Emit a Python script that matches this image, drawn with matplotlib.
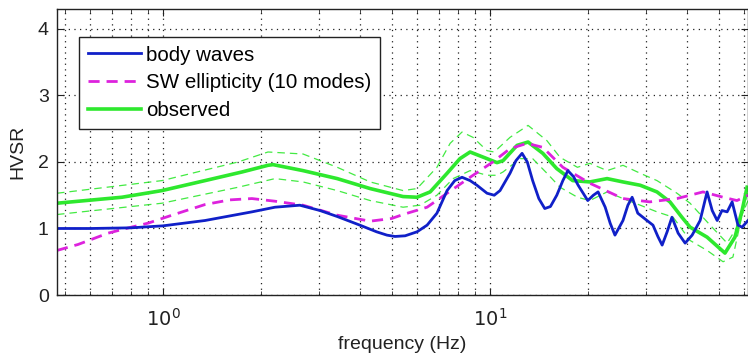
import matplotlib
matplotlib.use("Agg")
import matplotlib.pyplot as plt
from matplotlib.ticker import LogLocator, NullFormatter, FixedLocator

plt.rcParams['font.family'] = ['Liberation Sans', 'DejaVu Sans']

# body waves
body_f = [0.474, 0.6, 0.8, 1.0, 1.344, 1.87, 2.2, 2.62, 3.02, 3.41, 4.0, 4.5, 4.84, 5.12, 5.5,
          5.98, 6.42, 6.88, 7.39, 7.8, 8.21, 8.69, 9.12, 9.79, 10.3, 10.73, 11.51, 12.0, 12.53,
          13.0, 13.5, 14.1, 14.7, 15.3, 16.0, 16.7, 17.3, 18.0, 18.6, 19.9, 20.7, 21.4, 22.5,
          23.3, 24.1, 25.5, 26.4, 27.2, 28.3, 30.2, 31.5, 32.6, 33.6, 34.8, 36.0, 37.6, 39.5,
          41.5, 43.9, 46.1, 47.8, 49.5, 51.2, 53.1, 55.0, 57.3, 59.0, 61.5]
body_v = [1.0, 1.0, 1.01, 1.04, 1.12, 1.25, 1.32, 1.35, 1.27, 1.18, 1.05, 0.95, 0.9, 0.88, 0.89,
          0.95, 1.05, 1.23, 1.57, 1.72, 1.77, 1.72, 1.65, 1.53, 1.5, 1.57, 1.83, 2.02, 2.13,
          2.0, 1.72, 1.45, 1.30, 1.33, 1.5, 1.72, 1.87, 1.78, 1.65, 1.42, 1.5, 1.55, 1.32,
          1.08, 0.9, 1.12, 1.35, 1.47, 1.23, 1.12, 1.05, 0.88, 0.75, 0.95, 1.17, 0.93, 0.78,
          0.9, 1.12, 1.55, 1.27, 1.12, 1.27, 1.25, 1.4, 1.05, 1.02, 1.12]

# SW ellipticity (10 modes)
sw_f = [0.474, 0.55, 0.679, 0.8, 0.9, 1.065, 1.344, 1.6, 1.87, 2.2, 2.68, 3.41, 4.3, 5.0,
        5.42, 6.42, 7.39, 8.69, 10.2, 11.51, 12.98, 14.5, 16.7, 20.2, 25.5, 30.8, 37.3, 44.8,
        51.6, 56.9, 61.5]
sw_v = [0.67, 0.76, 0.93, 1.02, 1.08, 1.2, 1.36, 1.43, 1.45, 1.41, 1.35, 1.2, 1.11, 1.15,
        1.21, 1.32, 1.53, 1.77, 2.0, 2.2, 2.28, 2.22, 1.92, 1.68, 1.45, 1.4, 1.45, 1.55,
        1.47, 1.42, 1.5]

# observed mean
obs_f = [0.474, 0.749, 0.993, 1.344, 1.745, 2.094, 2.17, 2.68, 3.41, 4.3, 5.42, 5.98, 6.56,
         7.39, 8.09, 8.69, 9.79, 10.5, 10.96, 12.1, 13.07, 14.5, 16.0, 17.9, 20.2, 22.8, 25.5,
         28.8, 32.4, 35.5, 38.6, 40.9, 46.1, 52.3, 56.1, 59.0, 61.1]
obs_v = [1.38, 1.47, 1.57, 1.72, 1.85, 1.95, 1.96, 1.87, 1.75, 1.6, 1.48, 1.47, 1.55,
         1.83, 2.05, 2.15, 2.05, 1.99, 2.02, 2.25, 2.3, 2.13, 1.9, 1.72, 1.7, 1.75, 1.7,
         1.65, 1.55, 1.4, 1.17, 1.02, 0.87, 0.63, 0.87, 1.27, 1.62]

# observed +/- one standard deviation
up_f = [0.474, 0.993, 1.696, 2.094, 2.68, 3.41, 4.3, 5.42, 5.98, 6.88, 7.55, 8.21, 8.87, 9.79,
        10.3, 11.51, 13.07, 14.93, 16.37, 18.5, 20.2, 22.8, 25.5, 28.8, 32.4, 37.3, 40.9,
        47.1, 53.1, 56.9, 61.5]
up_v = [1.53, 1.72, 2.0, 2.15, 2.12, 1.92, 1.7, 1.57, 1.6, 1.92, 2.28, 2.45, 2.37, 2.17,
        2.15, 2.37, 2.55, 2.32, 2.07, 1.92, 1.98, 1.87, 1.95, 1.83, 1.72, 1.53, 1.38,
        1.05, 0.78, 1.02, 1.42]
lo_f = [0.474, 0.993, 1.696, 2.2, 2.68, 3.41, 4.3, 5.42, 6.11, 6.88, 7.71, 8.69, 9.79, 10.5,
        10.96, 12.36, 13.5, 14.93, 16.37, 18.5, 20.2, 22.8, 25.5, 28.8, 32.4, 36.3, 40.9,
        46.1, 51.6, 55.3, 59.4, 61.5]
lo_v = [1.21, 1.38, 1.62, 1.75, 1.7, 1.57, 1.42, 1.32, 1.35, 1.5, 1.75, 1.87, 1.8, 1.8,
        1.85, 2.05, 2.05, 1.83, 1.62, 1.47, 1.42, 1.55, 1.45, 1.35, 1.25, 1.17, 0.82,
        0.67, 0.5, 0.57, 1.27, 1.57]

labels = ['body waves', 'SW ellipticity (10 modes)', 'observed']

fig = plt.figure(figsize=(7.48, 3.59), dpi=100)
ax = fig.add_axes([57/748, 1-295/359, 1-57/748, (295-9)/359])

green = '#2ee82e'
ax.plot(up_f, up_v, color=green, lw=0.9, ls=(0, (6, 4)), alpha=0.9)
ax.plot(lo_f, lo_v, color=green, lw=0.9, ls=(0, (6, 4)), alpha=0.9)
l3, = ax.plot(obs_f, obs_v, color=green, lw=2.6, label=labels[2])
l2, = ax.plot(sw_f, sw_v, color='#dd22dd', lw=2.0, ls=(0, (4, 2.5)), label=labels[1])
l1, = ax.plot(body_f, body_v, color='#1020c8', lw=2.0, label=labels[0])

ax.set_xscale('log')
ax.set_xlim(0.474, 61.5)
ax.set_ylim(0, 4.3)
ax.set_yticks([0, 1, 2, 3, 4])
ax.xaxis.set_major_locator(FixedLocator([1, 10]))
ax.set_xticklabels([r'$10^0$', r'$10^1$'])
ax.xaxis.set_minor_locator(LogLocator(base=10, subs=range(2, 10)))
ax.xaxis.set_minor_formatter(NullFormatter())
ax.tick_params(which='both', direction='in', top=True, right=True, color='#222222')
ax.tick_params(which='major', length=5, labelsize=14, labelcolor='#222222')
ax.tick_params(which='minor', length=3)
ax.tick_params(axis='y', pad=6)
ax.tick_params(axis='x', pad=9)
ax.grid(True, which='major', axis='both', color='#222222', ls=(0, (1, 3.5)), lw=0.9)
ax.grid(True, which='minor', axis='x', color='#222222', ls=(0, (1, 3.5)), lw=0.9)
for s in ax.spines.values():
    s.set_color('#222222')
    s.set_linewidth(1.0)

ax.set_xlabel('frequency (Hz)', fontsize=14, color='#222222', labelpad=5)
ax.set_ylabel('HVSR', fontsize=14, color='#222222', labelpad=8)

leg = ax.legend(handles=[l1, l2, l3], loc='upper left',
                bbox_to_anchor=((79-57)/690, (295-37)/286), borderaxespad=0,
                prop={'size': 14.8}, frameon=True, fancybox=False, framealpha=1,
                edgecolor='#222222', handlelength=2.6, handletextpad=0.25,
                labelspacing=0.42, borderpad=0.42)
leg.get_frame().set_linewidth(1.0)

fig.savefig('out.png', dpi=100)
